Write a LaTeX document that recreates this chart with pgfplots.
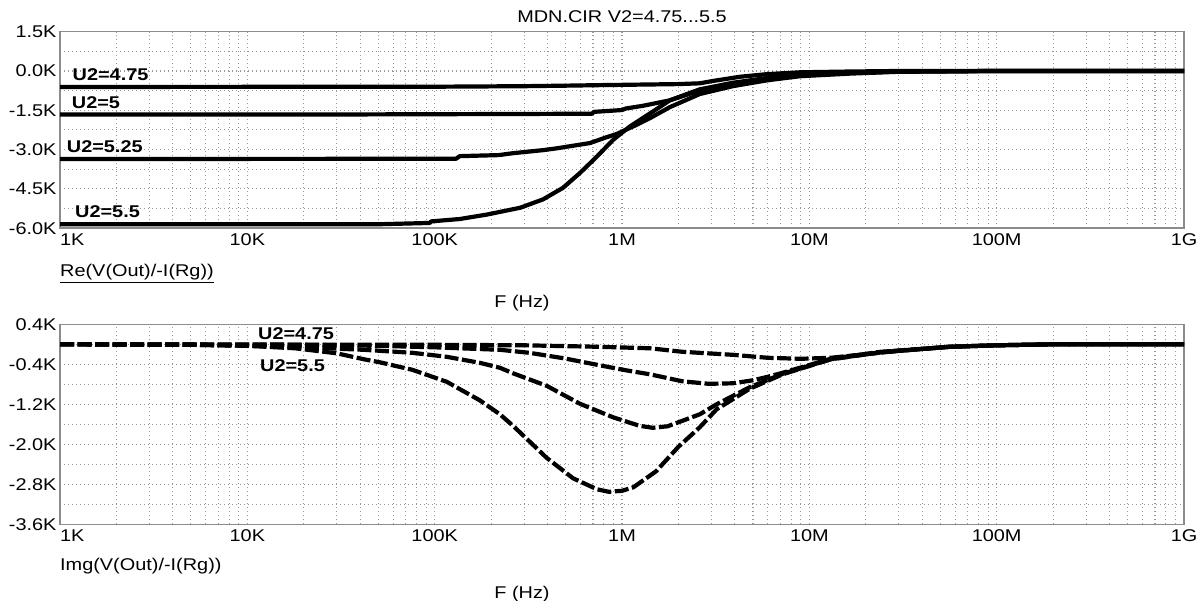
\documentclass[border=0pt]{standalone}
\usepackage{fontspec}
\setmainfont{Liberation Sans}[FakeStretch=1.17]
\usepackage{pgfplots}
\pgfplotsset{compat=1.18}
\newcommand{\fs}{\fontsize{17}{20}\selectfont}
\newcommand{\firstlab}{\makebox[0pt][l]{1K}}
\tikzset{bdash/.style={dash pattern=on 14pt off 3.5pt}}
\begin{document}
\begin{tikzpicture}
\path[use as bounding box] (0,0) rectangle (1203pt,-601pt);
\node[font=\fs] at (622pt,-16.5pt) {MDN.CIR V2=4.75...5.5};
% ---------- top axis ----------
\begin{axis}[scale only axis, width=1124pt, height=196.5pt,
    at={(60pt,-31.7pt)}, anchor=north west,
    xmode=log, xmin=1e3, xmax=1e9,
    xtick={1e3,1e4,1e5,1e6,1e7,1e8,1e9},
    xticklabels={{\firstlab},10K,100K,1M,10M,100M,1G},
    minor y tick num=1,
    grid=both,
    major grid style={gray!80, line width=1.1pt, dash pattern=on 1.2pt off 2.8pt},
    minor grid style={gray!80, line width=1.1pt, dash pattern=on 1.2pt off 2.8pt},
    axis line style={gray!90, line width=1.5pt},
    major tick length=0pt, minor tick length=0pt,
    tick label style={font=\fs},
    xticklabel style={yshift=-2pt},
    ymin=-6, ymax=1.5, ytick={1.5,0,-1.5,-3,-4.5,-6},
    yticklabels={1.5K,0.0K,-1.5K,-3.0K,-4.5K,-6.0K}]
\addplot[black, line width=4.2pt, line join=round] coordinates {(1e3,-0.61) (1e5,-0.60) (3e5,-0.58) (5e5,-0.56) (7.6e5,-0.54) (2e6,-0.50) (2.6e6,-0.47) (3.06e6,-0.38) (4.27e6,-0.22) (5.94e6,-0.12) (8.9e6,-0.05) (1.65e7,-0.02) (3e7,0) (1e9,0)};
\addplot[black, line width=4.2pt, line join=round] coordinates {(1e3,-1.66) (3e4,-1.66) (3e5,-1.64) (6.9e5,-1.63) (7.1e5,-1.56) (1.0e6,-1.49) (1.05e6,-1.43) (1.29e6,-1.33) (1.8e6,-1.12) (2.6e6,-0.74) (3.9e6,-0.50) (5.9e6,-0.30) (8.9e6,-0.16) (1.65e7,-0.07) (3e7,-0.02) (1e8,0) (1e9,0)};
\addplot[black, line width=4.2pt, line join=round] coordinates {(1e3,-3.36) (1.3e5,-3.35) (1.36e5,-3.25) (2.2e5,-3.21) (2.6e5,-3.14) (3.8e5,-3.02) (4.5e5,-2.95) (6.75e5,-2.75) (8.1e5,-2.55) (9.4e5,-2.40) (1.2e6,-2.05) (1.41e6,-1.80) (1.8e6,-1.38) (2.6e6,-0.88) (3.9e6,-0.58) (5.9e6,-0.36) (8.9e6,-0.20) (1.65e7,-0.10) (3e7,-0.03) (1e8,0) (1e9,0)};
\addplot[black, line width=4.2pt, line join=round] coordinates {(1e3,-5.85) (5e4,-5.85) (9.4e4,-5.80) (9.6e4,-5.74) (1.36e5,-5.65) (1.9e5,-5.48) (2.86e5,-5.22) (3.79e5,-4.90) (4.84e5,-4.46) (5.97e5,-3.89) (7.36e5,-3.26) (8.96e5,-2.63) (1.1e6,-2.12) (1.41e6,-1.62) (1.8e6,-1.12) (2.6e6,-0.70) (3.9e6,-0.45) (5.9e6,-0.27) (8.9e6,-0.14) (1.65e7,-0.06) (3e7,-0.02) (1e8,0) (1e9,0)};
\end{axis}
\node[font=\fs\bfseries, anchor=west, inner sep=0pt] at (72.5pt,-75pt) {U2=4.75};
\node[font=\fs\bfseries, anchor=west, inner sep=0pt] at (71.7pt,-103pt) {U2=5};
\node[font=\fs\bfseries, anchor=west, inner sep=0pt] at (66.7pt,-147pt) {U2=5.25};
\node[font=\fs\bfseries, anchor=west, inner sep=0pt] at (75pt,-211.5pt) {U2=5.5};
\node[font=\fs, anchor=base west, inner sep=0pt] at (60pt,-277pt) {\underline{Re(V(Out)/-I(Rg))}};
\node[font=\fs, anchor=base, inner sep=0pt] at (522pt,-308pt) {F (Hz)};
% ---------- bottom axis ----------
\begin{axis}[scale only axis, width=1124pt, height=200pt,
    at={(60pt,-324.3pt)}, anchor=north west,
    xmode=log, xmin=1e3, xmax=1e9,
    xtick={1e3,1e4,1e5,1e6,1e7,1e8,1e9},
    xticklabels={{\firstlab},10K,100K,1M,10M,100M,1G},
    minor y tick num=1,
    grid=both,
    major grid style={gray!80, line width=1.1pt, dash pattern=on 1.2pt off 2.8pt},
    minor grid style={gray!80, line width=1.1pt, dash pattern=on 1.2pt off 2.8pt},
    axis line style={gray!90, line width=1.5pt},
    major tick length=0pt, minor tick length=0pt,
    tick label style={font=\fs},
    xticklabel style={yshift=-2pt},
    ymin=-3.6, ymax=0.4, ytick={0.4,-0.4,-1.2,-2.0,-2.8,-3.6},
    yticklabels={0.4K,-0.4K,-1.2K,-2.0K,-2.8K,-3.6K}]
\addplot[black, line width=4.2pt, line join=round, bdash] coordinates {(1e3,0) (1e5,-0.01) (3e5,-0.02) (7.6e5,-0.05) (1.41e6,-0.08) (2.1e6,-0.15) (3.9e6,-0.21) (6e6,-0.27) (9e6,-0.29) (1.3e7,-0.27) (1.65e7,-0.23) (3e7,-0.13) (5.6e7,-0.05) (1e8,-0.02) (2e8,0) (1e9,0)};
\addplot[black, line width=4.2pt, line join=round, bdash] coordinates {(1e3,0) (2e4,-0.01) (5e4,-0.03) (1e5,-0.06) (2.23e5,-0.11) (3.2e5,-0.17) (4.9e5,-0.28) (7.6e5,-0.42) (1.05e6,-0.52) (1.41e6,-0.60) (2.1e6,-0.74) (2.9e6,-0.79) (3.9e6,-0.78) (5e6,-0.72) (6e6,-0.65) (7.2e6,-0.57) (1.3e7,-0.29) (2.4e7,-0.15) (5.6e7,-0.05) (1e8,-0.02) (2e8,0) (1e9,0)};
\addplot[black, line width=4.2pt, line join=round, bdash] coordinates {(1e3,0) (5e3,-0.01) (1e4,-0.03) (2e4,-0.06) (4.2e4,-0.11) (7.6e4,-0.17) (1.16e5,-0.25) (1.74e5,-0.37) (2.23e5,-0.47) (2.62e5,-0.58) (3.96e5,-0.83) (5.97e5,-1.19) (8.96e5,-1.46) (1.24e6,-1.63) (1.46e6,-1.67) (1.75e6,-1.64) (2.0e6,-1.56) (2.6e6,-1.40) (3.2e6,-1.20) (4.8e6,-0.86) (7.2e6,-0.59) (1.3e7,-0.30) (2.4e7,-0.16) (5.6e7,-0.05) (1e8,-0.02) (2e8,0) (1e9,0)};
\addplot[black, line width=4.2pt, line join=round, bdash] coordinates {(1e3,0) (5e3,-0.01) (1e4,-0.03) (1.8e4,-0.08) (3e4,-0.18) (4.2e4,-0.30) (5.1e4,-0.36) (7.6e4,-0.51) (1.16e5,-0.75) (1.74e5,-1.12) (2.23e5,-1.40) (2.62e5,-1.63) (3.96e5,-2.27) (5.48e5,-2.68) (7.36e5,-2.90) (8.5e5,-2.95) (1e6,-2.93) (1.15e6,-2.86) (1.52e6,-2.54) (2.0e6,-2.05) (2.6e6,-1.66) (3.2e6,-1.30) (4.8e6,-0.89) (7.2e6,-0.60) (1.3e7,-0.30) (2.4e7,-0.16) (5.6e7,-0.05) (1e8,-0.02) (2e8,0) (1e9,0)};
\end{axis}
\node[font=\fs\bfseries, anchor=west, inner sep=0pt] at (258pt,-334pt) {U2=4.75};
\node[font=\fs\bfseries, anchor=west, inner sep=0pt] at (260pt,-366pt) {U2=5.5};
\node[font=\fs, anchor=base west, inner sep=0pt] at (60pt,-570pt) {Img(V(Out)/-I(Rg))};
\node[font=\fs, anchor=base, inner sep=0pt] at (522pt,-598pt) {F (Hz)};
\end{tikzpicture}
\end{document}
